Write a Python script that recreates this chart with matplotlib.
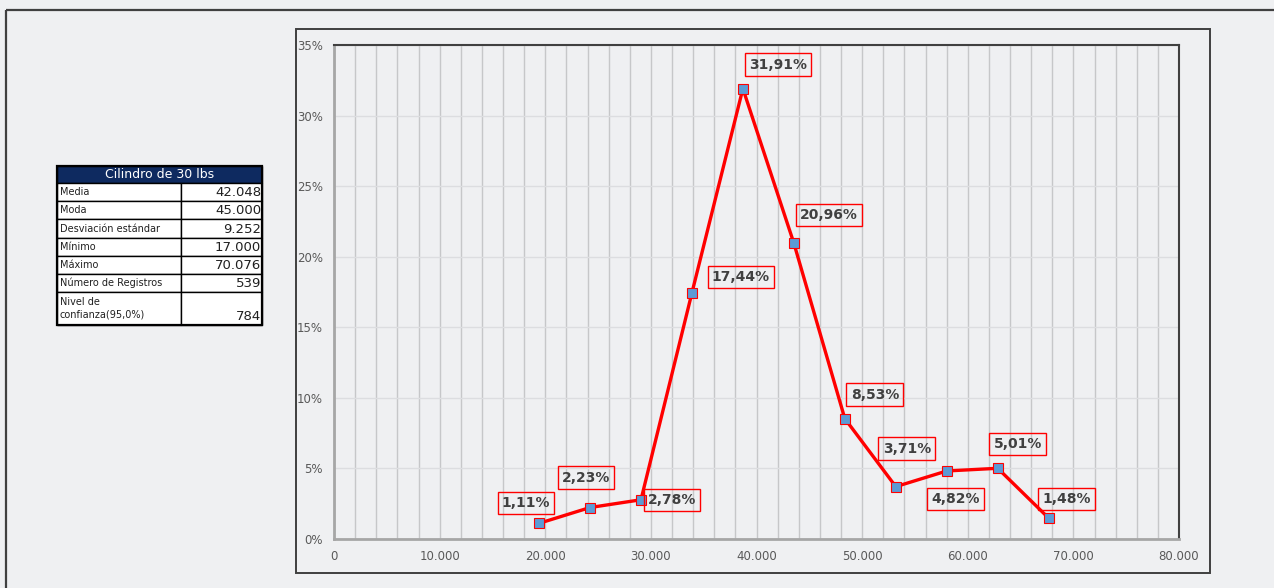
import numpy as np
import matplotlib.pyplot as plt
from matplotlib.patches import Rectangle
from matplotlib.ticker import FuncFormatter, MultipleLocator

# bin midpoints (lbs) and share of records (%)
bin_mid = [19412, 24237, 29062, 33887, 38712, 43537, 48362, 53187, 58012, 62837, 67662]
pct = [1.11, 2.23, 2.78, 17.44, 31.91, 20.96, 8.53, 3.71, 4.82, 5.01, 1.48]
# label offsets from each point, in pixels (dx, dy up)
lbl_off = [(-13, 20), (-4, 30), (31, 0), (49, 16), (35, 24), (35, 28),
           (30, 24), (11, 38), (9, -28), (20, 24), (18, 19)]

table_title = "Cilindro de 30 lbs"
stat_names = ["Media", "Moda", "Desviación estándar", "Mínimo", "Máximo",
              "Número de Registros", "Nivel de\nconfianza(95,0%)"]
stat_values = ["42.048", "45.000", "9.252", "17.000", "70.076", "539", "784"]

W, H = 1274, 588
bg = "#eff0f2"
fig = plt.figure(figsize=(W / 100, H / 100), dpi=100, facecolor=bg)

# overlay axes in pixel coords for frames and the table
ov = fig.add_axes([0, 0, 1, 1], zorder=0)
ov.set_xlim(0, W)
ov.set_ylim(H, 0)
ov.axis("off")
ov.add_patch(Rectangle((6, 10), W + 10, H, fill=False, ec="#404040", lw=1.6))
ov.add_patch(Rectangle((296, 29), 914, 544, fill=False, ec="#404040", lw=1.4))

# table
tx0, tx1, tsplit = 57, 262, 181
ov.add_patch(Rectangle((tx0, 166), tx1 - tx0, 17, fc="#0e2a60", ec="black", lw=1))
ov.text((tx0 + tx1) / 2, 174.5, table_title, color="white", ha="center", va="center",
        fontsize=9)
row_edges = [183, 201, 219, 238, 256, 274, 292, 325]
for i, (name, val) in enumerate(zip(stat_names, stat_values)):
    y0, y1 = row_edges[i], row_edges[i + 1]
    ov.add_patch(Rectangle((tx0, y0), tsplit - tx0, y1 - y0, fc="white", ec="black", lw=1))
    ov.add_patch(Rectangle((tsplit, y0), tx1 - tsplit, y1 - y0, fc="white", ec="black", lw=1))
    ov.text(tx0 + 3, (y0 + y1) / 2, name, ha="left", va="center", fontsize=7,
            linespacing=1.3, color="#202020")
    ov.text(tx1 - 1, y1 - 2, val, ha="right", va="bottom", fontsize=9.5, color="#202020")
ov.add_patch(Rectangle((tx0, 166), tx1 - tx0, 325 - 166, fill=False, ec="black", lw=1.6))

# main chart
ax = fig.add_axes([334 / W, 1 - 539 / H, (1179 - 334) / W, (539 - 45) / H], zorder=1)
ax.set_facecolor(bg)
ax.set_xlim(0, 80000)
ax.set_ylim(0, 35)
ax.xaxis.set_major_locator(MultipleLocator(10000))
ax.xaxis.set_minor_locator(MultipleLocator(2000))
ax.yaxis.set_major_locator(MultipleLocator(5))
ax.grid(which="both", axis="x", color="#c6c7c9", lw=1)
ax.grid(which="major", axis="y", color="#dcdde0", lw=1)
ax.set_axisbelow(True)
ax.xaxis.set_major_formatter(FuncFormatter(lambda v, p: "0" if v == 0 else f"{v:,.0f}".replace(",", ".")))
ax.yaxis.set_major_formatter(FuncFormatter(lambda v, p: f"{v:.0f}%"))
ax.tick_params(which="both", length=0, labelsize=8.5, labelcolor="#595959", pad=8)
for s in ["left", "bottom"]:
    ax.spines[s].set_color("#a6a6a6")
    ax.spines[s].set_linewidth(2)
for s in ["top", "right"]:
    ax.spines[s].set_color("#404040")
    ax.spines[s].set_linewidth(1.5)

ax.plot(bin_mid, pct, color="red", lw=2.4, marker="s", ms=6.5,
        mfc="#5b9bd5", mec="red", mew=0.8, zorder=3)

for x, y, (dx, dy) in zip(bin_mid, pct, lbl_off):
    ax.annotate(f"{y:.2f}%".replace(".", ","), (x, y), xytext=(dx, dy),
                textcoords="offset pixels", ha="center", va="center",
                fontsize=10, fontweight="bold", color="#404040",
                bbox=dict(boxstyle="square,pad=0.3", fc="none", ec="red", lw=1))

fig.savefig("out.png", dpi=100, facecolor=bg)
